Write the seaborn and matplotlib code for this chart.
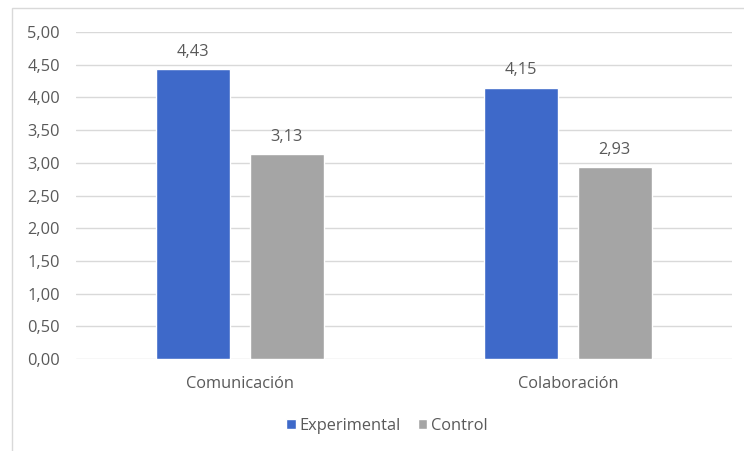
import pandas as pd
import matplotlib
matplotlib.use("Agg")
import matplotlib.pyplot as plt
import seaborn as sns
from matplotlib.patches import Rectangle, Patch

categories = ["Comunicación", "Colaboración"]
groups = ["Experimental", "Control"]
experimental = [4.43, 4.15]
control = [3.13, 2.93]
yticks = [0, 0.5, 1, 1.5, 2, 2.5, 3, 3.5, 4, 4.5, 5]

df = pd.DataFrame({
    "Categoria": categories * 2,
    "Grupo": [groups[0]] * 2 + [groups[1]] * 2,
    "Valor": experimental + control,
})

sns.set_style("white")
plt.rcParams["font.family"] = ["Open Sans", "DejaVu Sans"]
text_color = "#595959"
palette = {"Experimental": "#3E69C9", "Control": "#A5A5A5"}

fig = plt.figure(figsize=(7.44, 4.51), dpi=100)
ax = fig.add_axes([76 / 744, 1 - 359 / 451, (732 - 76) / 744, (359 - 32) / 451])

sns.barplot(data=df, x="Categoria", y="Valor", hue="Grupo", order=categories,
            hue_order=groups, palette=palette, width=0.57, gap=0.21,
            saturation=1, legend=False, ax=ax)

ax.set_xlim(-0.5, 1.5)
ax.set_ylim(0, 5)
ax.set_yticks(yticks)
ax.set_yticklabels([f"{v:.2f}".replace(".", ",") for v in yticks])
ax.set_xlabel("")
ax.set_ylabel("")
ax.grid(axis="y", color="#D9D9D9", linewidth=1)
ax.set_axisbelow(True)
for s in ax.spines.values():
    s.set_visible(False)
ax.tick_params(axis="both", length=0, labelsize=11.8, colors=text_color)
ax.tick_params(axis="y", pad=11.5)
ax.tick_params(axis="x", pad=12.5)

for cont in ax.containers:
    ax.bar_label(cont, labels=[f"{b.get_height():.2f}".replace(".", ",") for b in cont],
                 padding=7, fontsize=11.8, color=text_color)

handles = [Patch(facecolor=palette[g], label=g) for g in groups]
fig.legend(handles=handles, loc="center", bbox_to_anchor=(387 / 744, 1 - 426 / 451),
           ncol=2, frameon=False, fontsize=11.8, handlelength=0.6, handleheight=0.6,
           handletextpad=0.25, columnspacing=1.0, labelcolor=text_color)

fig.patches.append(Rectangle((12 / 744, -0.05), 1.05, 1.05 - 8 / 451,
                             transform=fig.transFigure, fill=False,
                             edgecolor="#D9D9D9", linewidth=1))

fig.savefig("out.png", dpi=100)
